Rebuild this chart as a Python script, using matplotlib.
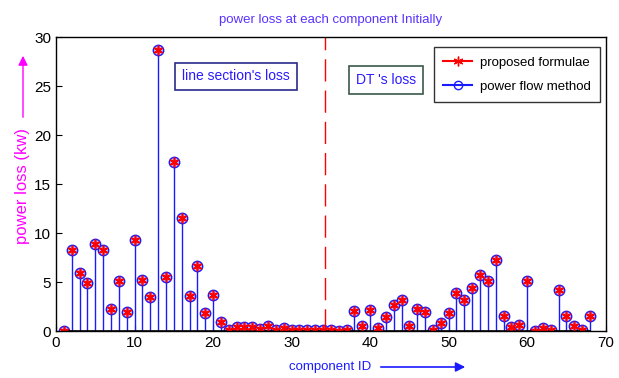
import matplotlib.pyplot as plt
from matplotlib.lines import Line2D
from matplotlib.patches import FancyArrowPatch

plt.rcParams['font.family'] = ['Liberation Sans', 'DejaVu Sans']

component_id = list(range(1, 69))
power_flow_loss = [0.0, 8.3, 5.9, 4.9, 8.9, 8.3, 2.3, 5.1, 2.0, 9.3,
                   5.2, 3.5, 28.7, 5.5, 17.3, 11.5, 3.6, 6.6, 1.9, 3.7,
                   0.9, 0.1, 0.4, 0.4, 0.4, 0.2, 0.5, 0.15, 0.3, 0.1,
                   0.1, 0.1, 0.1, 0.1, 0.1, 0.05, 0.15, 2.1, 0.55, 2.2,
                   0.3, 1.4, 2.65, 3.2, 0.55, 2.3, 2.0, 0.1, 0.8, 1.8,
                   3.9, 3.2, 4.4, 5.7, 5.1, 7.3, 1.55, 0.4, 0.65, 5.1,
                   0.05, 0.3, 0.1, 4.2, 1.55, 0.55, 0.15, 1.55]
proposed_loss = list(power_flow_loss)
divider_x = 34.3

fig = plt.figure(figsize=(6.19, 3.78), dpi=100)
ax = fig.add_axes([0.0905, 0.124, 0.888, 0.778])

markerline, stemlines, baseline = ax.stem(component_id, power_flow_loss, basefmt='k-')
plt.setp(stemlines, color='#1a1aff', linewidth=1.0)
plt.setp(markerline, marker='o', markersize=7.5, markerfacecolor='#b8b8ff',
         markeredgecolor='#1a1aff', markeredgewidth=1.0)
plt.setp(baseline, linewidth=1.2)
ax.plot(component_id, proposed_loss, linestyle='none', marker=(6, 2, 0),
        markersize=7, color='red', markeredgewidth=1.2)

ax.axvline(divider_x, color='red', linestyle=(0, (16, 6.5)), linewidth=1.0)

ax.set_xlim(0, 70)
ax.set_ylim(0, 30)
ax.set_xticks(range(0, 71, 10))
ax.set_yticks(range(0, 31, 5))
ax.tick_params(labelsize=11, direction='in', length=4)
for s in ax.spines.values():
    s.set_linewidth(1.0)

ax.set_title('power loss at each component Initially', color='#5a32ff', fontsize=9.5, pad=10)

ax.text(0.327, 0.866, "line section's loss", transform=ax.transAxes, color='#2a1aff',
        fontsize=10, va='center', ha='center',
        bbox=dict(boxstyle='square,pad=0.5', facecolor='white', edgecolor='#2a2a8a', linewidth=1.2))
ax.text(0.600, 0.853, "DT 's loss", transform=ax.transAxes, color='#2a1aff',
        fontsize=10, va='center', ha='center',
        bbox=dict(boxstyle='square,pad=0.5', facecolor='white', edgecolor='#3a5a4a', linewidth=1.2))

handles = [Line2D([], [], color='red', marker=(6, 2, 0), markersize=7),
           Line2D([], [], color='#1a1aff', marker='o', markerfacecolor='none', markersize=6)]
leg = ax.legend(handles, ['proposed formulae', 'power flow method'], loc='upper right',
                bbox_to_anchor=(0.99, 0.966), borderaxespad=0,
                fontsize=9.5, frameon=True, fancybox=False, edgecolor='black',
                handlelength=2.2, handletextpad=0.6, labelspacing=0.9, borderpad=0.7)
leg.get_frame().set_linewidth(1.0)

# y label with arrow
fig.text(23 / 619, 1 - 186 / 378, 'power loss (kw)', color='#ff00ff', rotation=90,
         fontsize=12, ha='center', va='center')
fig.add_artist(FancyArrowPatch(
    (23 / 619, 1 - 120 / 378), (23 / 619, 1 - 53 / 378), transform=fig.transFigure,
    arrowstyle='-|>', mutation_scale=14, color='#ff00ff', linewidth=1.0))

# x label with arrow
fig.text(330 / 619, 1 - 367 / 378, 'component ID', color='#1a1aff',
         fontsize=9.5, ha='center', va='center')
fig.add_artist(FancyArrowPatch(
    (378 / 619, 1 - 367 / 378), (468 / 619, 1 - 367 / 378), transform=fig.transFigure,
    arrowstyle='-|>', mutation_scale=14, color='#1a1aff', linewidth=1.2))

fig.savefig('out.png', dpi=100)
